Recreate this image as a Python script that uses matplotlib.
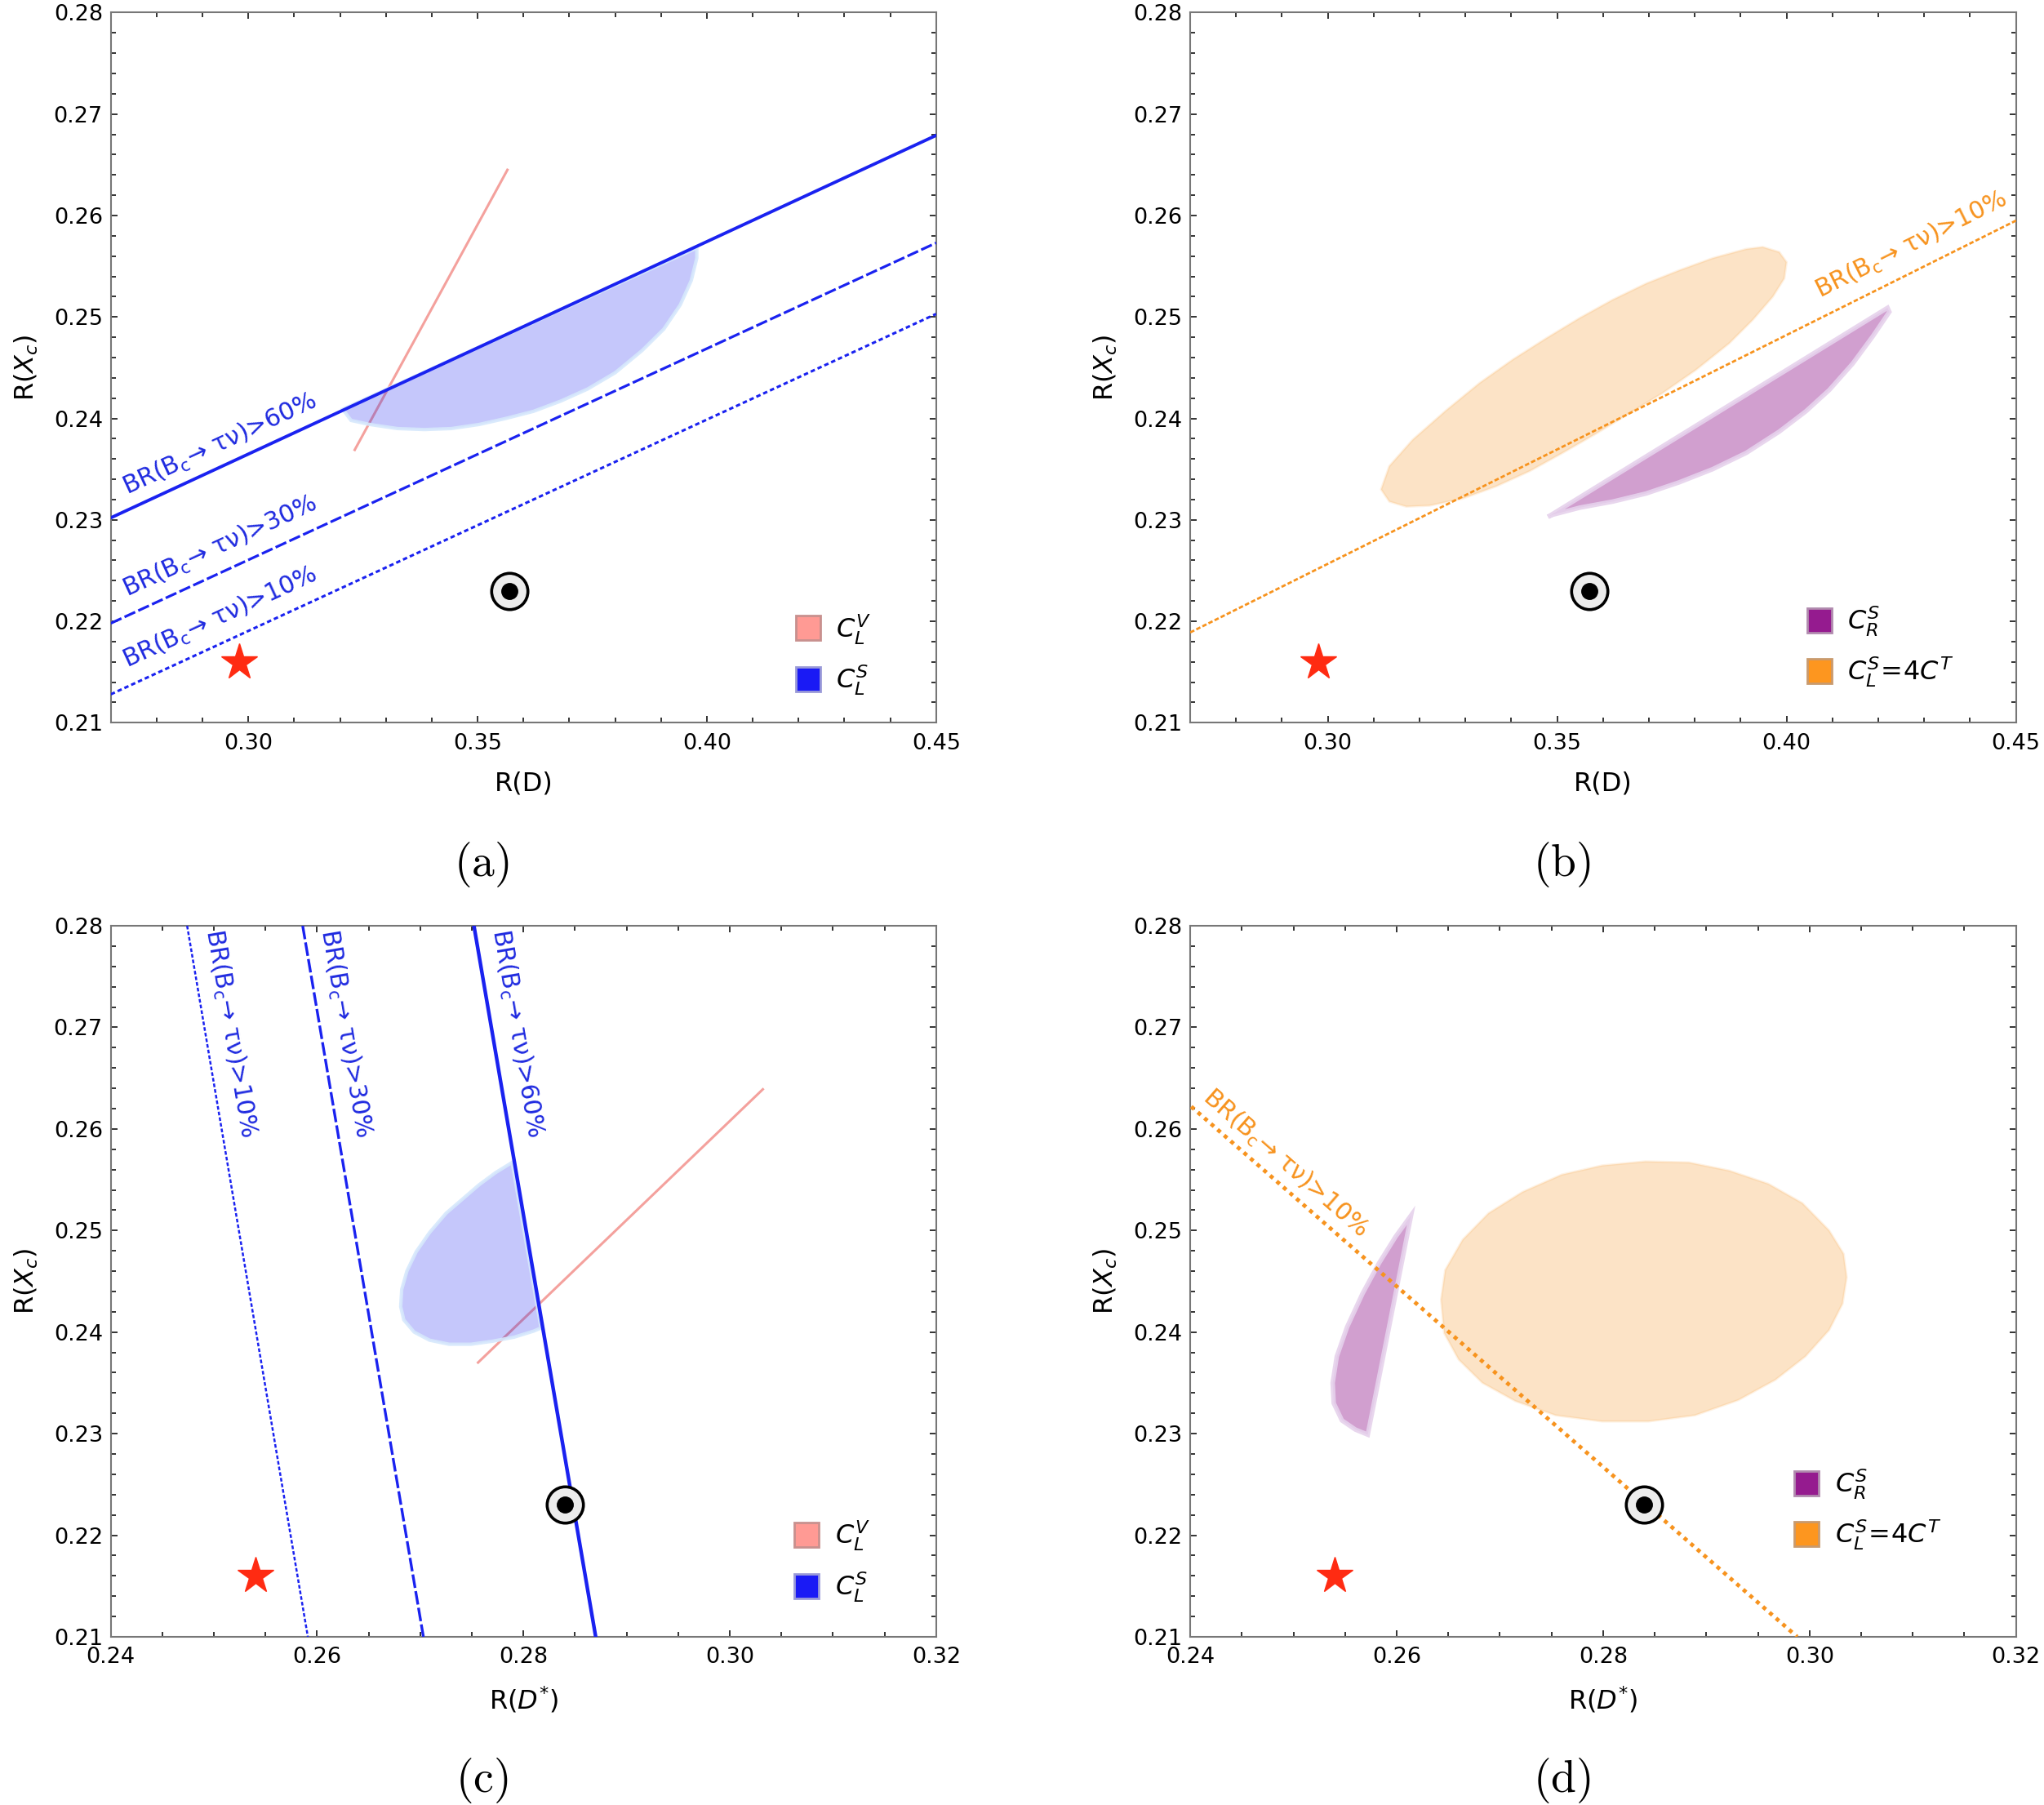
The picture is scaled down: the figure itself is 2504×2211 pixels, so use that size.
import matplotlib
matplotlib.use('Agg')
import matplotlib.pyplot as plt
import numpy as np
from matplotlib.colors import to_rgba
from matplotlib.lines import Line2D
from matplotlib.ticker import MultipleLocator, FormatStrFormatter

plt.rcParams['font.family'] = ['DejaVu Sans']
plt.rcParams['mathtext.fontset'] = 'dejavusans'

# SM prediction (star) and measurement (circled dot)
rd_sm, rdst_sm, rxc_sm = 0.298, 0.254, 0.216
rd_exp, rdst_exp, rxc_exp = 0.357, 0.284, 0.223

# (a) R(D) - R(Xc)
a_br_x = [0.27, 0.45]
a_br60_y = [0.2302, 0.2679]
a_br30_y = [0.2198, 0.2573]
a_br10_y = [0.2128, 0.2503]
a_cv_x = [0.3232, 0.3565]
a_cv_y = [0.2369, 0.2645]
a_cs_x = [0.3206, 0.3224, 0.3265, 0.3325, 0.3384, 0.3443, 0.3503, 0.3562, 0.3622,
          0.3681, 0.3740, 0.3800, 0.3859, 0.3906, 0.3942, 0.3966, 0.3978, 0.3978]
a_cs_y = [0.2409, 0.2398, 0.2394, 0.2390, 0.2389, 0.2390, 0.2394, 0.2400, 0.2407,
          0.2417, 0.2429, 0.2445, 0.2467, 0.2488, 0.2512, 0.2536, 0.2558, 0.2568]

# (b) R(D) - R(Xc)
b_br10_x = [0.27, 0.45]
b_br10_y = [0.2189, 0.2595]
b_ct_x = [0.3116, 0.3134, 0.3185, 0.3258, 0.3331, 0.3403, 0.3476, 0.3549, 0.3621, 0.3694,
          0.3766, 0.3839, 0.3912, 0.3948, 0.3984, 0.4000, 0.3995, 0.3970, 0.3926, 0.3875,
          0.3803, 0.3730, 0.3657, 0.3585, 0.3512, 0.3440, 0.3367, 0.3294, 0.3222, 0.3171,
          0.3134]
b_ct_y = [0.2330, 0.2353, 0.2379, 0.2408, 0.2435, 0.2458, 0.2479, 0.2499, 0.2517, 0.2533,
          0.2546, 0.2558, 0.2567, 0.2569, 0.2564, 0.2554, 0.2538, 0.2520, 0.2497, 0.2474,
          0.2448, 0.2425, 0.2405, 0.2385, 0.2366, 0.2348, 0.2333, 0.2321, 0.2314, 0.2313,
          0.2318]
b_cr_x = [0.3480, 0.4220, 0.4224, 0.4188, 0.4144, 0.4093, 0.4042, 0.3984, 0.3912, 0.3839,
          0.3766, 0.3694, 0.3621, 0.3549, 0.3490]
b_cr_y = [0.2303, 0.2509, 0.2505, 0.2481, 0.2454, 0.2428, 0.2407, 0.2387, 0.2366, 0.2350,
          0.2337, 0.2326, 0.2318, 0.2312, 0.2305]

# (c) R(D*) - R(Xc)
c_br_y = [0.28, 0.21]
c_br10_x = [0.2474, 0.2591]
c_br30_x = [0.2586, 0.2703]
c_br60_x = [0.2752, 0.2870]
c_cv_x = [0.2756, 0.3032]
c_cv_y = [0.2370, 0.2639]
c_cs_x = [0.2789, 0.2773, 0.2757, 0.2741, 0.2725, 0.2709, 0.2696, 0.2687, 0.2682, 0.2681,
          0.2684, 0.2694, 0.2709, 0.2728, 0.2749, 0.2770, 0.2791, 0.2810, 0.2817]
c_cs_y = [0.2567, 0.2557, 0.2545, 0.2531, 0.2517, 0.2498, 0.2479, 0.2460, 0.2442, 0.2425,
          0.2412, 0.2400, 0.2392, 0.2388, 0.2388, 0.2391, 0.2395, 0.2401, 0.2404]

# (d) R(D*) - R(Xc)
d_br10_x = [0.2401, 0.2988]
d_br10_y = [0.2622, 0.2100]
d_ct_x = [0.2643, 0.2647, 0.2664, 0.2689, 0.2722, 0.2760, 0.2799, 0.2841, 0.2883, 0.2922,
          0.2960, 0.2993, 0.3019, 0.3033, 0.3036, 0.3032, 0.3019, 0.2996, 0.2967, 0.2931,
          0.2889, 0.2844, 0.2799, 0.2754, 0.2715, 0.2683, 0.2660, 0.2646]
d_ct_y = [0.2432, 0.2461, 0.2491, 0.2517, 0.2538, 0.2555, 0.2564, 0.2568, 0.2567, 0.2559,
          0.2546, 0.2527, 0.2500, 0.2477, 0.2454, 0.2428, 0.2402, 0.2376, 0.2353, 0.2333,
          0.2318, 0.2312, 0.2312, 0.2318, 0.2332, 0.2350, 0.2373, 0.2399]
d_cr_x = [0.2614, 0.2599, 0.2583, 0.2567, 0.2552, 0.2542, 0.2538, 0.2539, 0.2547, 0.2560, 0.2572]
d_cr_y = [0.2515, 0.2494, 0.2468, 0.2438, 0.2405, 0.2376, 0.2350, 0.2330, 0.2313, 0.2304, 0.2299]

BLUE = '#1a22f0'
PINK = '#f4a19d'
PURPLE = '#931a8e'
ORANGE = '#f7931e'
BLUE_TXT = '#1f2ae0'

fig = plt.figure(figsize=(25.04, 22.11), dpi=100)
ax_a = fig.add_axes([0.0542, 0.5996, 0.4038, 0.3934])
ax_b = fig.add_axes([0.5823, 0.5996, 0.4040, 0.3934])
ax_c = fig.add_axes([0.0542, 0.0932, 0.4038, 0.3939])
ax_d = fig.add_axes([0.5823, 0.0932, 0.4040, 0.3939])


def style(ax, xlim, xmaj, xmin, xlabel):
    ax.set_xlim(*xlim)
    ax.set_ylim(0.21, 0.28)
    ax.xaxis.set_major_locator(MultipleLocator(xmaj))
    ax.xaxis.set_minor_locator(MultipleLocator(xmin))
    ax.yaxis.set_major_locator(MultipleLocator(0.01))
    ax.yaxis.set_minor_locator(MultipleLocator(0.002))
    ax.xaxis.set_major_formatter(FormatStrFormatter('%.2f'))
    ax.yaxis.set_major_formatter(FormatStrFormatter('%.2f'))
    ax.tick_params(which='both', direction='in', top=True, right=True,
                   color='#333333', width=1.4)
    ax.tick_params(which='major', length=6, labelsize=19.5)
    ax.tick_params(axis='x', which='major', pad=9)
    ax.tick_params(axis='y', which='major', pad=7)
    ax.tick_params(which='minor', length=4.2)
    for sp in ax.spines.values():
        sp.set_color('#777777')
        sp.set_linewidth(1.5)
    ax.set_xlabel(xlabel, fontsize=23, labelpad=15)
    ax.set_ylabel(r'R($X_c$)', fontsize=23, labelpad=12)


def br_label(ax, x, y, xs, ys, text, color):
    ang = np.degrees(np.arctan2(ys[1] - ys[0], xs[1] - xs[0]))
    ax.text(x, y, text, color=color, fontsize=21.5, rotation=ang,
            rotation_mode='anchor', transform_rotates_text=True,
            ha='center', va='baseline', zorder=6)


def points(ax, x_sm, x_exp):
    ax.plot(x_sm, rxc_sm, marker='*', ms=33, color='#ff2b12', ls='none', zorder=7)
    ax.plot(x_exp, rxc_exp, marker='o', ms=32, mfc='#ececec', mec='black',
            mew=2.6, ls='none', zorder=7)
    ax.plot(x_exp, rxc_exp, marker='o', ms=14, color='black', ls='none', zorder=8)


def legend(ax, entries, anchor):
    handles = [Line2D([], [], marker='s', ms=21, mfc=c, mec=e, mew=2, ls='none', label=l)
               for l, c, e in entries]
    ax.legend(handles=handles, loc='lower left', bbox_to_anchor=anchor, frameon=False,
              fontsize=23, handlelength=1.05, handletextpad=0.55, labelspacing=0.65,
              borderpad=0, borderaxespad=0)


br = r'BR(B$_\mathrm{c}$→ τν)>'

# (a)
ax = ax_a
ax.plot(a_cv_x, a_cv_y, color=PINK, lw=2.2, zorder=2)
ax.fill(a_cs_x, a_cs_y, fc=to_rgba(BLUE, 0.25), ec=to_rgba('#d6e8fc', 0.9), lw=3, zorder=3)
ax.plot(a_br_x, a_br60_y, color=BLUE, lw=2.8, zorder=4)
ax.plot(a_br_x, a_br30_y, color=BLUE, lw=2.3, dashes=(4.5, 1.3), zorder=4)
ax.plot(a_br_x, a_br10_y, color=BLUE, lw=2.2, dashes=(1.8, 1.2), zorder=4)
br_label(ax, 0.2945, 0.2352 + 0.0016, a_br_x, a_br60_y, br + '60%', BLUE_TXT)
br_label(ax, 0.2945, 0.2249 + 0.0018, a_br_x, a_br30_y, br + '30%', BLUE_TXT)
br_label(ax, 0.2945, 0.2179 + 0.0018, a_br_x, a_br10_y, br + '10%', BLUE_TXT)
points(ax, rd_sm, rd_exp)
style(ax, (0.27, 0.45), 0.05, 0.01, 'R(D)')
legend(ax, [(r'$C_L^V$', '#ff9a94', '#c8908e'), (r'$C_L^S$', '#1a1af5', '#9a9ad8')],
       (0.828, 0.036))

# (b)
ax = ax_b
ax.fill(b_ct_x, b_ct_y, fc=to_rgba(ORANGE, 0.25), ec=to_rgba(ORANGE, 0.12), lw=2, zorder=2)
ax.fill(b_cr_x, b_cr_y, fc=to_rgba(PURPLE, 0.42), ec=to_rgba('#e6d2ec', 0.9), lw=4, zorder=3)
ax.plot(b_br10_x, b_br10_y, color=ORANGE, lw=2.0, dashes=(2.0, 1.0), zorder=4)
br_label(ax, 0.428, 0.2545 + 0.0020, b_br10_x, b_br10_y, br + '10%', ORANGE)
points(ax, rd_sm, rd_exp)
style(ax, (0.27, 0.45), 0.05, 0.01, 'R(D)')
legend(ax, [(r'$C_R^S$', '#951b8f', '#b08aae'), (r'$C_L^S\!=\!4C^T$', '#fd961f', '#c99a6e')],
       (0.745, 0.047))

# (c)
ax = ax_c
ax.plot(c_cv_x, c_cv_y, color=PINK, lw=2.2, zorder=2)
ax.fill(c_cs_x, c_cs_y, fc=to_rgba(BLUE, 0.25), ec=to_rgba('#d6e8fc', 0.9), lw=3, zorder=3)
ax.plot(c_br60_x, c_br_y, color=BLUE, lw=3.2, zorder=4)
ax.plot(c_br30_x, c_br_y, color=BLUE, lw=2.4, dashes=(5, 1.2), zorder=4)
ax.plot(c_br10_x, c_br_y, color=BLUE, lw=1.8, dashes=(1.8, 1.0), zorder=4)
br_label(ax, 0.2492 + 0.0017, 0.2693, c_br10_x, c_br_y, br + '10%', BLUE_TXT)
br_label(ax, 0.2604 + 0.0017, 0.2693, c_br30_x, c_br_y, br + '30%', BLUE_TXT)
br_label(ax, 0.2770 + 0.0017, 0.2693, c_br60_x, c_br_y, br + '60%', BLUE_TXT)
points(ax, rdst_sm, rdst_exp)
style(ax, (0.24, 0.32), 0.02, 0.005, r'R($D^{*}$)')
legend(ax, [(r'$C_L^V$', '#ff9a94', '#c8908e'), (r'$C_L^S$', '#1a1af5', '#9a9ad8')],
       (0.8265, 0.046))

# (d)
ax = ax_d
ax.fill(d_ct_x, d_ct_y, fc=to_rgba(ORANGE, 0.25), ec=to_rgba(ORANGE, 0.12), lw=2, zorder=2)
ax.fill(d_cr_x, d_cr_y, fc=to_rgba(PURPLE, 0.42), ec=to_rgba('#e6d2ec', 0.9), lw=4, zorder=3)
ax.plot(d_br10_x, d_br10_y, color=ORANGE, lw=3.5, dashes=(1.0, 1.2), zorder=4)
br_label(ax, 0.2488, 0.2545 + 0.0016, d_br10_x, d_br10_y, br + '10%', ORANGE)
points(ax, rdst_sm, rdst_exp)
style(ax, (0.24, 0.32), 0.02, 0.005, r'R($D^{*}$)')
legend(ax, [(r'$C_R^S$', '#951b8f', '#b08aae'), (r'$C_L^S\!=\!4C^T$', '#fd961f', '#c99a6e')],
       (0.730, 0.119))

for lab, x, y in [('(a)', 0.2357, 0.521), ('(b)', 0.764, 0.521),
                  ('(c)', 0.2357, 0.0136), ('(d)', 0.764, 0.0136)]:
    fig.text(x, y, r'$\mathrm{' + lab + '}$', fontsize=40, math_fontfamily='cm',
             ha='center', va='center')

fig.savefig('out.png', dpi=100)
